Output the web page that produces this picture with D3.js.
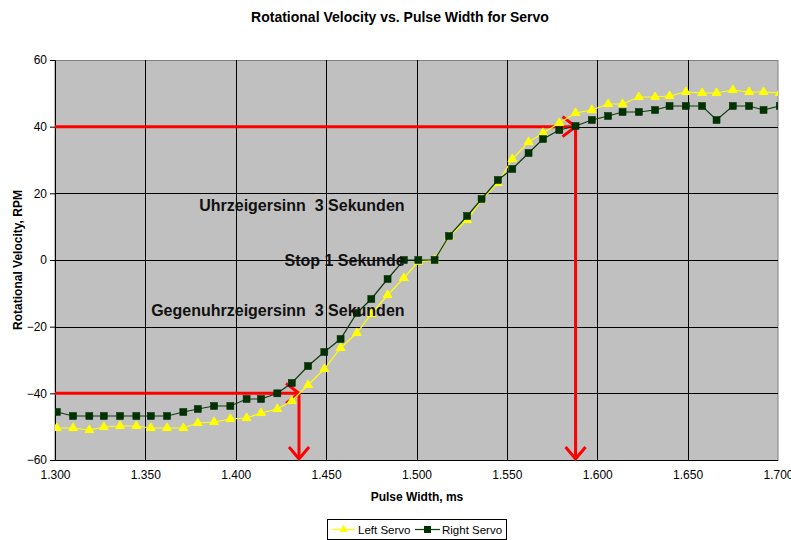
<!DOCTYPE html>
<html>
<head>
<meta charset="utf-8">
<script src="https://cdn.jsdelivr.net/npm/d3@7"></script>
<style>
body { margin:0; background:#fff; }
text { font-family: "Liberation Sans", Arial, sans-serif; }
</style>
</head>
<body>
<svg id="chart" width="791" height="540"></svg>
<script>
// pulse width (ms)
var pulse = [1.301,1.310,1.319,1.327,1.336,1.345,1.353,1.362,1.371,1.379,
  1.388,1.397,1.406,1.414,1.423,1.431,1.440,1.449,1.458,1.467,
  1.475,1.484,1.493,1.501,1.510,1.518,1.528,1.536,1.545,1.553,
  1.562,1.570,1.579,1.588,1.597,1.606,1.614,1.623,1.632,1.640,
  1.649,1.658,1.666,1.675,1.684,1.692,1.701];
var leftServo = [-50.4,-50.4,-51,-50.1,-49.8,-49.8,-50.4,-50.4,-50.4,-48.9,
  -48.6,-47.7,-47.4,-45.9,-44.7,-42.3,-37.5,-32.7,-26.4,-21.9,
  -16.2,-10.5,-5.4,-0.5,0,7,12,18,23.1,30.3,
  35.4,38.1,41.1,44.1,45,46.8,46.8,48.9,48.9,49.2,
  50.4,50.1,50.1,51,50.4,50.4,50.1];
var rightServo = [-45.6,-46.8,-46.8,-46.8,-46.8,-46.8,-46.8,-46.8,-45.6,-44.7,
  -43.8,-43.8,-41.7,-41.7,-40,-36.9,-31.8,-27.6,-23.7,-15.9,
  -11.7,-5.7,0,0,0,7.2,13.2,18.3,24,27.3,
  32.1,36.3,39,40.2,42,43.2,44.4,44.4,45,46.2,
  46.2,46.2,42,46.2,46.2,45,46.2];
var yTicks = [-60,-40,-20,0,20,40,60];
var xTicks = [1.30,1.35,1.40,1.45,1.50,1.55,1.60,1.65,1.70];
// red marker arrows: [pulse, rpm]
var arrows = [[1.435,-40],[1.588,40]];
var notes = ["Uhrzeigersinn  3 Sekunden","Stop 1 Sekunde","Gegenuhrzeigersinn  3 Sekunden"];
var noteY = [14.7,-1.8,-16.8];

var svg = d3.select("#chart"),
width = +svg.attr("width"),
height = +svg.attr("height");
var pLeft = 55, pRight = 778, pTop = 60, pBottom = 460;

var x = d3.scaleLinear().domain([1.3,1.7]).range([pLeft,pRight]);
var y = d3.scaleLinear().domain([-60,60]).range([pBottom,pTop]);

svg.append("rect").attr("width",width).attr("height",height).attr("fill","#fff");

svg.append("clipPath").attr("id","plotclip")
.append("rect").attr("x",pLeft).attr("y",pTop).attr("width",pRight-pLeft).attr("height",pBottom-pTop);

svg.append("rect")
.attr("x",pLeft).attr("y",pTop+0.5)
.attr("width",pRight-pLeft).attr("height",pBottom-pTop)
.attr("fill","#c0c0c0")
.attr("stroke","#808080").attr("stroke-width",1);

// gridlines
svg.append("g").selectAll("line")
.data(yTicks.filter(d => d > -60 && d < 60))
.enter().append("line")
.attr("x1",pLeft).attr("x2",pRight)
.attr("y1",d => Math.round(y(d))+0.5).attr("y2",d => Math.round(y(d))+0.5)
.attr("stroke","#000").attr("stroke-width",1);
svg.append("g").selectAll("line")
.data(xTicks.filter(d => d > 1.3 && d < 1.7))
.enter().append("line")
.attr("x1",d => Math.round(x(d))+0.5).attr("x2",d => Math.round(x(d))+0.5)
.attr("y1",pTop).attr("y2",pBottom)
.attr("stroke","#000").attr("stroke-width",1);

// axes
var yAxis = d3.axisLeft(y).tickValues(yTicks).tickSize(5).tickPadding(3).tickFormat(d3.format("d"));
var gy = svg.append("g").attr("transform","translate(" + pLeft + ",0)").call(yAxis);
var xAxis = d3.axisBottom(x).tickValues(xTicks).tickSize(0).tickPadding(10).tickFormat(d3.format(".3f"));
var gx = svg.append("g").attr("transform","translate(0," + pBottom + ")").call(xAxis);
[gy,gx].forEach(function(g){
  g.selectAll("path,line").attr("stroke","#000");
  g.selectAll("text").attr("font-size","12px").attr("fill","#000").style("font-family","'Liberation Sans', Arial, sans-serif");
});
gx.select(".domain").attr("d","M" + pLeft + ",0.5H" + pRight);

// red arrows
var red = svg.append("g").attr("stroke","#ff0000").attr("stroke-width",3).attr("fill","none");
arrows.forEach(function(a){
  var ax = x(a[0]), ay = y(a[1]), by = y(-60);
  red.append("line").attr("x1",pLeft).attr("y1",ay).attr("x2",ax).attr("y2",ay);
  red.append("line").attr("x1",ax).attr("y1",ay).attr("x2",ax).attr("y2",by-1);
  red.append("path").attr("d","M" + (ax-13) + "," + (ay-10) + "L" + ax + "," + ay + "L" + (ax-13) + "," + (ay+10));
  red.append("path").attr("d","M" + (ax-10) + "," + (by-13) + "L" + ax + "," + (by-1) + "L" + (ax+10) + "," + (by-13));
});

// series
var line = d3.line().x(d => x(d[0])).y(d => y(d[1]));
var leftData = pulse.map((p,i) => [p,leftServo[i]]);
var rightData = pulse.map((p,i) => [p,rightServo[i]]);
var plot = svg.append("g").attr("clip-path","url(#plotclip)");

plot.append("path").datum(leftData).attr("d",line)
.attr("fill","none").attr("stroke","#ffff00").attr("stroke-width",1.2);
plot.append("g").selectAll("path")
.data(leftData).enter().append("path")
.attr("d",d3.symbol().type(d3.symbolTriangle).size(34))
.attr("transform",d => "translate(" + x(d[0]) + "," + y(d[1]) + ")")
.attr("fill","#ffff00").attr("stroke","#ffff00");

plot.append("path").datum(rightData).attr("d",line)
.attr("fill","none").attr("stroke","#0d3d0d").attr("stroke-width",1.2);
plot.append("g").selectAll("rect")
.data(rightData).enter().append("rect")
.attr("x",d => x(d[0])-3.5).attr("y",d => y(d[1])-3.5)
.attr("width",7).attr("height",7)
.attr("fill","#003300").attr("stroke","#002200").attr("stroke-width",0.5);

// annotations
svg.append("g").selectAll("text")
.data(notes).enter().append("text")
.attr("x",x(1.4934)).attr("y",(d,i) => y(noteY[i]))
.attr("text-anchor","end")
.style("white-space","pre")
.attr("font-size","16px").attr("font-weight","bold").attr("fill","#111")
.text(d => d);

// titles
svg.append("text").attr("x",400).attr("y",22).attr("text-anchor","middle")
.attr("font-size","14px").attr("font-weight","bold").text("Rotational Velocity vs. Pulse Width for Servo");
svg.append("text").attr("x",417).attr("y",501).attr("text-anchor","middle")
.attr("font-size","12px").attr("font-weight","bold").text("Pulse Width, ms");
svg.append("text").attr("transform","translate(22,260) rotate(-90)").attr("text-anchor","middle")
.attr("font-size","12px").attr("font-weight","bold").text("Rotational Velocity, RPM");

// legend
var lg = svg.append("g").attr("transform","translate(327,519)");
lg.append("rect").attr("x",0.5).attr("y",0.5).attr("width",179).attr("height",20)
.attr("fill","#fff").attr("stroke","#000").attr("stroke-width",1);
lg.append("line").attr("x1",5).attr("x2",28).attr("y1",10.5).attr("y2",10.5).attr("stroke","#ffff00").attr("stroke-width",1.2);
lg.append("path").attr("d",d3.symbol().type(d3.symbolTriangle).size(30)).attr("transform","translate(16.5,10.5)").attr("fill","#ffff00");
lg.append("text").attr("x",31).attr("y",14.5).attr("font-size","11.5px").text("Left Servo");
lg.append("line").attr("x1",88).attr("x2",113).attr("y1",10.5).attr("y2",10.5).attr("stroke","#0d3d0d").attr("stroke-width",1.2);
lg.append("rect").attr("x",97).attr("y",7).attr("width",7).attr("height",7).attr("fill","#003300");
lg.append("text").attr("x",115).attr("y",14.5).attr("font-size","11.5px").text("Right Servo");
</script>
</body>
</html>
